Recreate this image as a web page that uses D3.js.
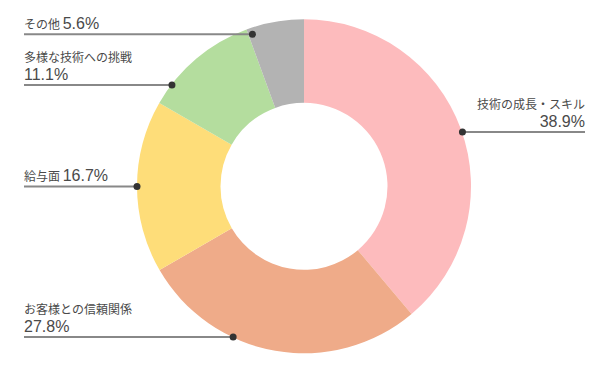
<!DOCTYPE html>
<html lang="ja">
<head>
<meta charset="UTF-8">
<title>Donut</title>
<script src="https://d3js.org/d3.v7.min.js"></script>
<style>
  body { margin: 0; background: #fff; }
  svg { display: block; }
  text { font-family: "Liberation Sans", Arial, "Noto Sans CJK JP", sans-serif; fill: #4a4a4a; }
  .name { font-family: "Noto Sans CJK JP", sans-serif; font-size: 12px; }
  .pct { font-size: 16px; }
</style>
</head>
<body>
<svg id="chart" width="608" height="372"></svg>
<script>
// data
const categories = ["技術の成長・スキル", "お客様との信頼関係", "給与面", "多様な技術への挑戦", "その他"];
const values = [38.9, 27.8, 16.7, 11.1, 5.6];
const colors = ["#fdbbbd", "#efab89", "#feDd79", "#b4dd9e", "#b3b3b3"];

// label layout: where on each slice the leader dot sits
const anchorT = [0.508, 0.653, 0.5, 0.19, 0.07];
const anchorR = [167.5, 166.5, 167, 166.5, 160.5];
const inline = [false, false, true, true, true]; // name and % on one line
inline[3] = false;

const cx = 304, cy = 186.3, outerR = 167, innerR = 83.5;
const leftX = 24, rightX = 585;

const svg = d3.select("#chart");
const g = svg.append("g").attr("transform", `translate(${cx},${cy})`);

const pie = d3.pie().sort(null).value(d => d);
const arcs = pie(values);
const arc = d3.arc().innerRadius(innerR).outerRadius(outerR);

g.selectAll("path.slice")
  .data(arcs)
  .enter().append("path")
  .attr("class", "slice")
  .attr("d", arc)
  .attr("fill", (d, i) => colors[i]);

const labels = svg.append("g");

arcs.forEach((d, i) => {
  const a = d.startAngle + anchorT[i] * (d.endAngle - d.startAngle);
  const px = cx + anchorR[i] * Math.sin(a);
  const py = cy - anchorR[i] * Math.cos(a);
  const right = px > cx;
  const edge = right ? rightX : leftX;
  const anchor = right ? "end" : "start";

  labels.append("line")
    .attr("x1", edge).attr("x2", px)
    .attr("y1", py).attr("y2", py)
    .attr("stroke", "#888").attr("stroke-width", 2);

  labels.append("circle")
    .attr("cx", px).attr("cy", py).attr("r", 3.5)
    .attr("fill", "#333");

  const pct = values[i].toFixed(1) + "%";
  if (inline[i]) {
    const t = labels.append("text")
      .attr("x", edge).attr("y", py - 5.5)
      .attr("text-anchor", anchor);
    t.append("tspan").attr("class", "name").text(categories[i] + " ");
    t.append("tspan").attr("class", "pct").text(pct);
  } else {
    labels.append("text")
      .attr("class", "name")
      .attr("x", edge).attr("y", py - 23)
      .attr("text-anchor", anchor)
      .text(categories[i]);
    labels.append("text")
      .attr("class", "pct")
      .attr("x", edge).attr("y", py - 5)
      .attr("text-anchor", anchor)
      .text(pct);
  }
});
</script>
</body>
</html>
